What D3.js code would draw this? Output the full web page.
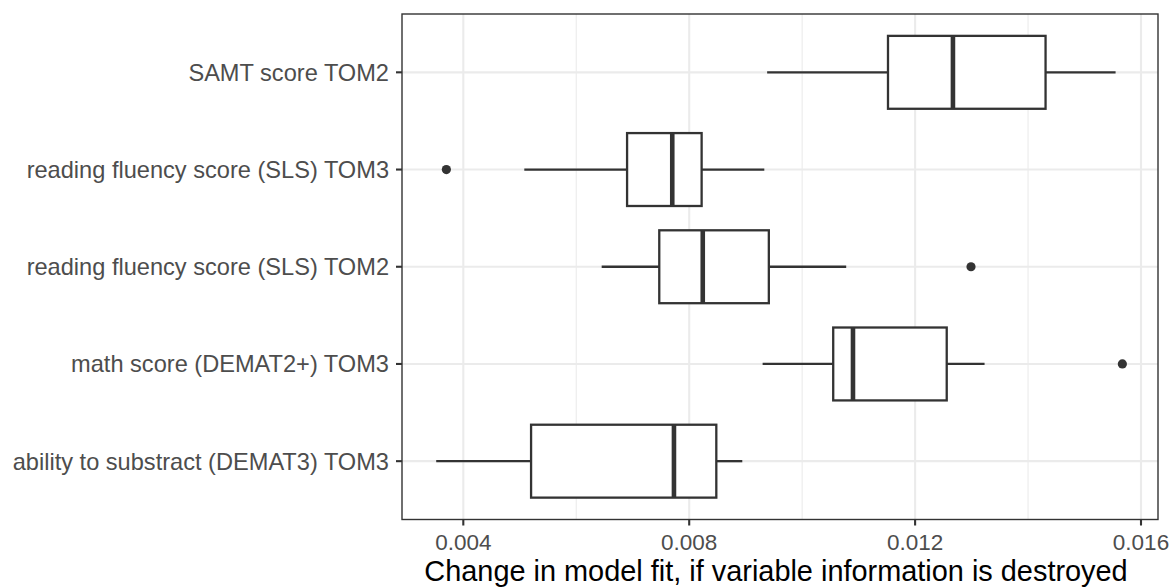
<!DOCTYPE html>
<html>
<head>
<meta charset="utf-8">
<script src="https://cdn.jsdelivr.net/npm/d3@7"></script>
<style>
  html, body { margin: 0; padding: 0; background: #fff; }
  svg { display: block; font-family: "Liberation Sans", Arial, Helvetica, sans-serif; }
</style>
</head>
<body>
<svg id="chart" width="1171" height="588"></svg>
<script>
// ---- data (top to bottom) ----
const categories = [
  "SAMT score TOM2",
  "reading fluency score (SLS) TOM3",
  "reading fluency score (SLS) TOM2",
  "math score (DEMAT2+) TOM3",
  "ability to substract (DEMAT3) TOM3"
];
const whiskerLow  = [0.00938, 0.00508, 0.00645, 0.00930, 0.00352];
const q1          = [0.01152, 0.00690, 0.00747, 0.01055, 0.00520];
const median      = [0.01267, 0.00770, 0.00824, 0.01090, 0.00773];
const q3          = [0.01431, 0.00822, 0.00941, 0.01256, 0.00848];
const whiskerHigh = [0.01555, 0.00933, 0.01078, 0.01323, 0.00894];
const outliers    = [[], [0.00370], [0.01299], [0.01567], []];
const xTicks      = [0.004, 0.008, 0.012, 0.016];
const xMinor      = [0.006, 0.010, 0.014];
const xTitle = "Change in model fit, if variable information is destroyed";

(function () {
// ---- layout ----
const svg = d3.select("#chart");
const pLeft = 402, pRight = 1158, pTop = 14, pBottom = 519.5;

const x = d3.scaleLinear().domain([0.0029145, 0.016301]).range([pLeft, pRight]);
const y = d3.scalePoint().domain(categories).range([pTop, pBottom]).padding(0.6);
const boxH = y.step() * 0.75;

const rows = categories.map((c, i) => ({
  cat: c, lo: whiskerLow[i], q1: q1[i], med: median[i], q3: q3[i], hi: whiskerHigh[i], out: outliers[i]
}));

// panel background
svg.append("rect").attr("x", pLeft).attr("y", pTop).attr("width", pRight - pLeft).attr("height", pBottom - pTop)
  .attr("fill", "#fff");

// grid
const g = svg.append("g");
g.selectAll(".minor").data(xMinor).join("line").attr("class", "minor")
  .attr("x1", d => x(d)).attr("x2", d => x(d)).attr("y1", pTop).attr("y2", pBottom)
  .attr("stroke", "#EBEBEB").attr("stroke-width", 1.1);
g.selectAll(".majorx").data(xTicks).join("line").attr("class", "majorx")
  .attr("x1", d => x(d)).attr("x2", d => x(d)).attr("y1", pTop).attr("y2", pBottom)
  .attr("stroke", "#EBEBEB").attr("stroke-width", 2.1);
g.selectAll(".majory").data(categories).join("line").attr("class", "majory")
  .attr("x1", pLeft).attr("x2", pRight).attr("y1", d => y(d)).attr("y2", d => y(d))
  .attr("stroke", "#EBEBEB").attr("stroke-width", 2.1);

// boxplots
const bp = svg.append("g");
const col = "#333333";
const lw = 2.3;
rows.forEach(r => {
  const cy = y(r.cat);
  bp.append("line").attr("x1", x(r.lo)).attr("x2", x(r.q1)).attr("y1", cy).attr("y2", cy)
    .attr("stroke", col).attr("stroke-width", lw);
  bp.append("line").attr("x1", x(r.q3)).attr("x2", x(r.hi)).attr("y1", cy).attr("y2", cy)
    .attr("stroke", col).attr("stroke-width", lw);
  bp.append("rect").attr("x", x(r.q1)).attr("y", cy - boxH / 2)
    .attr("width", x(r.q3) - x(r.q1)).attr("height", boxH)
    .attr("fill", "#fff").attr("stroke", col).attr("stroke-width", lw);
  bp.append("line").attr("x1", x(r.med)).attr("x2", x(r.med)).attr("y1", cy - boxH / 2).attr("y2", cy + boxH / 2)
    .attr("stroke", col).attr("stroke-width", lw * 2);
  r.out.forEach(o => {
    bp.append("circle").attr("cx", x(o)).attr("cy", cy).attr("r", 4.6).attr("fill", col);
  });
});

// panel border
svg.append("rect").attr("x", pLeft).attr("y", pTop).attr("width", pRight - pLeft).attr("height", pBottom - pTop)
  .attr("fill", "none").attr("stroke", "#333333").attr("stroke-width", 1.4);

// x axis
const xa = svg.append("g");
xa.selectAll("line").data(xTicks).join("line")
  .attr("x1", d => x(d)).attr("x2", d => x(d)).attr("y1", pBottom).attr("y2", pBottom + 6)
  .attr("stroke", "#333333").attr("stroke-width", 2.1);
xa.selectAll("text").data(xTicks).join("text")
  .attr("x", d => x(d)).attr("y", 549.5).attr("text-anchor", "middle")
  .attr("font-size", 22.5).attr("fill", "#4D4D4D")
  .text(d => d3.format(".3f")(d));

// y axis
const ya = svg.append("g");
ya.selectAll("line").data(categories).join("line")
  .attr("x1", pLeft - 6).attr("x2", pLeft).attr("y1", d => y(d)).attr("y2", d => y(d))
  .attr("stroke", "#333333").attr("stroke-width", 2.1);
ya.selectAll("text").data(categories).join("text")
  .attr("x", 389).attr("y", d => y(d) + 8.4).attr("text-anchor", "end")
  .attr("font-size", 23.6).attr("fill", "#4D4D4D")
  .text(d => d);

// x title
svg.append("text").attr("x", 776).attr("y", 581).attr("text-anchor", "middle")
  .attr("font-size", 28.9).attr("fill", "#000").text(xTitle);
})();
</script>
</body>
</html>
